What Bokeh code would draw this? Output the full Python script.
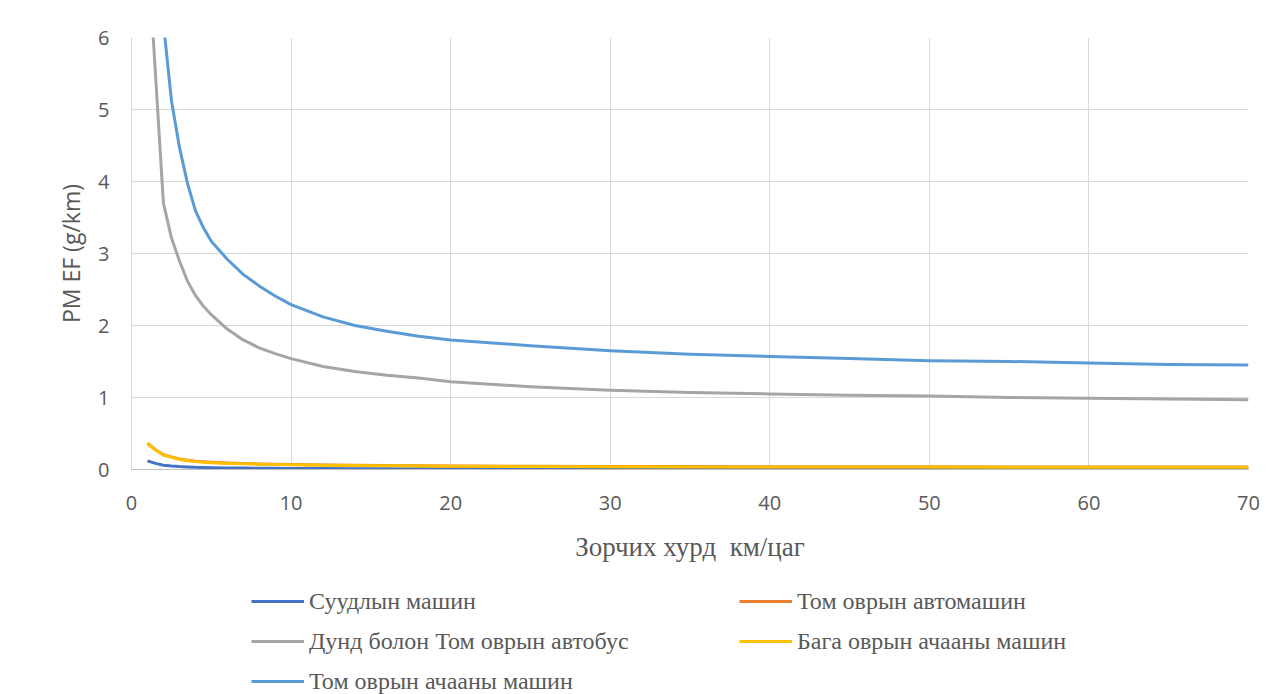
from bokeh.plotting import figure
from bokeh.models import Range1d, Legend, LegendItem, FixedTicker
from bokeh.layouts import column
from bokeh.embed import file_html
from bokeh.resources import INLINE

speed = [1, 1.5, 2, 2.5, 3, 3.5, 4, 4.5, 5, 6, 7, 8, 9, 10, 12, 14, 16, 18, 20,
         25, 30, 35, 40, 45, 50, 55, 60, 65, 70]

car = [0.12, 0.085, 0.06, 0.048, 0.04, 0.035, 0.03, 0.028, 0.026, 0.022, 0.02,
       0.018, 0.016, 0.015, 0.013, 0.012, 0.011, 0.010, 0.010, 0.009, 0.008,
       0.008, 0.007, 0.007, 0.007, 0.006, 0.006, 0.006, 0.006]

big_car = [0.365, 0.275, 0.205, 0.175, 0.145, 0.13, 0.115, 0.107, 0.1, 0.09,
           0.084, 0.078, 0.073, 0.069, 0.063, 0.058, 0.055, 0.052, 0.049,
           0.045, 0.042, 0.04, 0.039, 0.038, 0.037, 0.036, 0.035, 0.035, 0.034]

bus = [7.3, 5.5, 3.7, 3.22, 2.9, 2.62, 2.42, 2.27, 2.15, 1.95, 1.8, 1.69, 1.61,
       1.54, 1.43, 1.36, 1.31, 1.27, 1.22, 1.15, 1.1, 1.07, 1.05, 1.03, 1.02,
       1.0, 0.99, 0.98, 0.97]

small_truck = [0.36, 0.27, 0.2, 0.17, 0.14, 0.125, 0.11, 0.102, 0.095, 0.085,
               0.079, 0.074, 0.069, 0.065, 0.059, 0.054, 0.051, 0.048, 0.045,
               0.041, 0.038, 0.036, 0.035, 0.034, 0.033, 0.032, 0.031, 0.031,
               0.03]

big_truck = [11.5, 8.2, 6.2, 5.13, 4.48, 3.98, 3.6, 3.36, 3.17, 2.92, 2.71,
             2.55, 2.41, 2.29, 2.12, 2.0, 1.92, 1.85, 1.8, 1.72, 1.65, 1.6,
             1.57, 1.54, 1.51, 1.5, 1.48, 1.46, 1.45]

series_names = ["Суудлын машин", "Том оврын автомашин", "Дунд болон Том оврын автобус",
                "Бага оврын ачааны машин", "Том оврын ачааны машин"]
series_values = [car, big_car, bus, small_truck, big_truck]
series_colors = ["#4472C4", "#ED7D31", "#A5A5A5", "#FFC000", "#5B9BD5"]

x_ticks = [0, 10, 20, 30, 40, 50, 60, 70]
y_ticks = [0, 1, 2, 3, 4, 5, 6]

# ---------------- main chart ----------------
p = figure(width=1278, height=581, output_backend="svg", toolbar_location=None,
           x_range=Range1d(0, 70), y_range=Range1d(0, 6),
           min_border_left=131, min_border_right=30, min_border_top=37,
           min_border_bottom=112)
p.background_fill_color = "white"
p.border_fill_color = "white"
p.outline_line_color = None

for name, vals, col in zip(series_names, series_values, series_colors):
    p.line(speed, vals, line_color=col, line_width=3, line_join="round")

p.xaxis.ticker = FixedTicker(ticks=x_ticks)
p.yaxis.ticker = FixedTicker(ticks=y_ticks)
for ax in (p.xaxis[0], p.yaxis[0]):
    ax.major_tick_line_color = None
    ax.minor_tick_line_color = None
    ax.major_label_text_font = "Open Sans"
    ax.major_label_text_font_size = "20px"
    ax.major_label_text_color = "#595959"
p.xaxis.axis_line_color = "#BFBFBF"
p.yaxis.axis_line_color = "#D9D9D9"
p.xaxis.major_label_standoff = 20
p.yaxis.major_label_standoff = 16

p.xaxis.axis_label = "Зорчих хурд\u00a0 км/цаг"
p.xaxis.axis_label_text_font = "Liberation Serif"
p.xaxis.axis_label_text_font_style = "normal"
p.xaxis.axis_label_text_font_size = "27px"
p.xaxis.axis_label_text_color = "#595959"
p.xaxis.axis_label_standoff = 19

p.yaxis.axis_label = "PM EF (g/km)"
p.yaxis.axis_label_text_font = "Open Sans"
p.yaxis.axis_label_text_font_style = "normal"
p.yaxis.axis_label_text_font_size = "23px"
p.yaxis.axis_label_text_color = "#595959"
p.yaxis.axis_label_standoff = 8

p.xgrid.ticker = FixedTicker(ticks=x_ticks)
p.ygrid.ticker = FixedTicker(ticks=y_ticks)
p.xgrid.grid_line_color = "#D9D9D9"
p.ygrid.grid_line_color = "#D9D9D9"

# ---------------- legend strip ----------------
lf = figure(width=1278, height=113, output_backend="svg", toolbar_location=None,
            x_range=Range1d(0, 70), y_range=Range1d(100, 101),
            x_axis_type=None, y_axis_type=None,
            min_border_left=0, min_border_right=0, min_border_top=0,
            min_border_bottom=0)
lf.background_fill_color = "white"
lf.border_fill_color = "white"
lf.outline_line_color = None
lf.xgrid.visible = False
lf.ygrid.visible = False

leg_renderers = []
for name, vals, col in zip(series_names, series_values, series_colors):
    leg_renderers.append(lf.line(speed, vals, line_color=col, line_width=3))

items = [LegendItem(label=n, renderers=[r]) for n, r in zip(series_names, leg_renderers)]
legend = Legend(items=items, orientation="horizontal", ncols=2,
                location=(120, -7))
legend.padding = 0
legend.margin = 0
legend.spacing = 0
legend.border_line_color = None
legend.background_fill_alpha = 0
legend.glyph_width = 53
legend.glyph_height = 40
legend.label_height = 40
legend.label_width = 430
legend.label_standoff = 5
legend.label_text_font = "Liberation Serif"
legend.label_text_font_size = "24px"
legend.label_text_color = "#595959"
lf.add_layout(legend, "center")

layout = column(p, lf, spacing=0)
open("out.html", "w").write(file_html(layout, INLINE))
